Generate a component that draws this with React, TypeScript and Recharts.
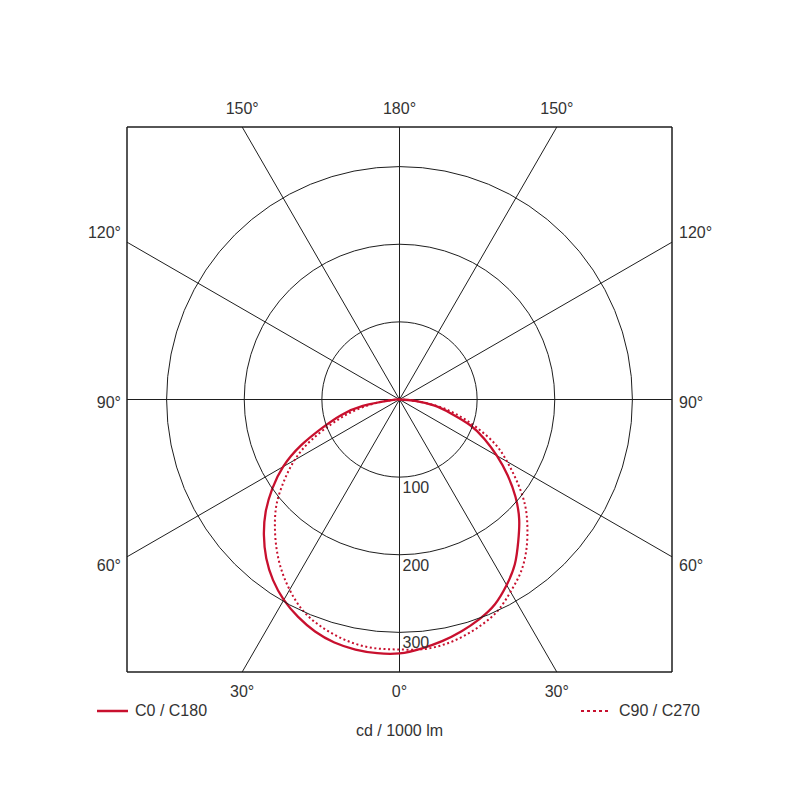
import React from 'react';
import {
  ComposedChart,
  Line,
  XAxis,
  YAxis,
  ReferenceLine,
  ReferenceDot,
} from 'recharts';

// polar diagram: gamma angle from nadir (0°) to horizontal (90°)
const GAMMA = [0, 5, 10, 15, 20, 25, 30, 35, 40, 45, 50, 55, 60, 65, 70, 75, 80, 85, 90];

// intensity in cd / 1000 lm
const C0 = [327, 322, 316, 309, 301, 291, 276, 259, 238, 218, 195, 170, 145, 121, 97, 68, 46, 20, 0];
const C180 = [327, 328, 327, 324, 318, 309, 298, 284, 267, 247, 225, 200, 173, 140, 105, 78, 48, 12, 0];
const C90 = [322, 323, 321, 316, 309, 300, 286, 272, 254, 233, 211, 185, 160, 136, 106, 78, 50, 20, 0];
const C270 = [322, 322, 320, 315, 308, 298, 283, 266, 247, 227, 206, 181, 156, 127, 94, 66, 38, 15, 0];

const RINGS = [100, 200, 300];
const SPOKES = [30, 60]; // plus the two axis lines

const RANGE = 351;
const EDGE = RANGE * Math.tan(Math.PI / 6); // where the 30° spokes meet the frame

const TOP_LABELS: Record<string, string> = { '-1': '150°', '0': '180°', '1': '150°' };
const BOTTOM_LABELS: Record<string, string> = { '-1': '30°', '0': '0°', '1': '30°' };
const SIDE_LABELS: Record<string, string> = { '-1': '60°', '0': '90°', '1': '120°' };

const RED = '#c8102e';
const INK = '#333';
const GRID = '#1e1e1e';
const FONT = '"Liberation Sans", Arial, sans-serif';
const FS = 16;

const PLOT = 545;
const PX = PLOT / (2 * RANGE);

const rad = (d: number) => (d * Math.PI) / 180;

// left half goes 90° -> 0°, right half 0° -> 90°
const toCurve = (left: number[], right: number[]) => {
  const pts: { g: number; i: number }[] = [];
  for (let k = GAMMA.length - 1; k >= 0; k--) pts.push({ g: -GAMMA[k], i: left[k] });
  for (let k = 1; k < GAMMA.length; k++) pts.push({ g: GAMMA[k], i: right[k] });
  return pts.map(({ g, i }) => ({ x: i * Math.sin(rad(g)), y: -i * Math.cos(rad(g)) }));
};

const solid = toCurve(C180, C0);
const dotted = toCurve(C270, C90);

const SideTick = ({ x, y, payload, side }: any) => {
  const v = Math.sign(payload.value);
  const dy = v > 0 ? -9.5 : v < 0 ? 9 : 3;
  return (
    <text
      x={x}
      y={y + dy}
      dy="0.35em"
      textAnchor={side === 'left' ? 'end' : 'start'}
      fill={INK}
      fontSize={FS}
      fontFamily={FONT}
    >
      {SIDE_LABELS[String(v)]}
    </text>
  );
};

const ringLabel = (value: number) => (p: any) => {
  const vb = p.viewBox;
  return (
    <text x={vb.x + vb.width / 2 + 3} y={vb.y + vb.height + 16} fill={INK} fontSize={FS} fontFamily={FONT}>
      {value}
    </text>
  );
};

const axisTick = { fill: INK, fontSize: FS, fontFamily: FONT };
const frame = { stroke: GRID, strokeWidth: 1.5 };

const legendRow: React.CSSProperties = {
  position: 'absolute',
  top: 702,
  display: 'flex',
  alignItems: 'center',
  fontFamily: FONT,
  fontSize: FS,
  color: INK,
};

export default function App() {
  return (
    <div style={{ position: 'absolute', left: 0, top: 0, width: 800, height: 800, background: '#fff' }}>
      <ComposedChart
        width={800}
        height={800}
        margin={{ top: 103, right: 88, bottom: 58, left: 87 }}
      >
        <XAxis
          xAxisId="b"
          type="number"
          dataKey="x"
          domain={[-RANGE, RANGE]}
          allowDataOverflow
          ticks={[-EDGE, 0, EDGE]}
          tickFormatter={(v: number) => BOTTOM_LABELS[String(Math.sign(v))]}
          height={70}
          tickSize={0}
          tickMargin={14}
          axisLine={frame}
          tickLine={false}
          tick={axisTick}
          label={{ value: 'cd / 1000 lm', position: 'insideBottom', offset: 6, fill: INK, fontSize: FS, fontFamily: FONT }}
        />
        <XAxis
          xAxisId="t"
          orientation="top"
          type="number"
          dataKey="x"
          domain={[-RANGE, RANGE]}
          allowDataOverflow
          ticks={[-EDGE, 0, EDGE]}
          tickFormatter={(v: number) => TOP_LABELS[String(Math.sign(v))]}
          height={24}
          tickSize={0}
          tickMargin={13}
          axisLine={frame}
          tickLine={false}
          tick={axisTick}
        />
        <YAxis
          yAxisId="l"
          type="number"
          dataKey="y"
          domain={[-RANGE, RANGE]}
          allowDataOverflow
          ticks={[-EDGE, 0, EDGE]}
          width={40}
          tickSize={0}
          tickMargin={6}
          axisLine={frame}
          tickLine={false}
          tick={(p: any) => <SideTick {...p} side="left" />}
        />
        <YAxis
          yAxisId="r"
          orientation="right"
          type="number"
          dataKey="y"
          domain={[-RANGE, RANGE]}
          allowDataOverflow
          ticks={[-EDGE, 0, EDGE]}
          width={40}
          tickSize={0}
          tickMargin={7}
          axisLine={frame}
          tickLine={false}
          tick={(p: any) => <SideTick {...p} side="right" />}
        />

        {RINGS.map((r) => (
          <ReferenceDot
            key={r}
            xAxisId="b"
            yAxisId="l"
            x={0}
            y={0}
            r={r * PX}
            fill="none"
            stroke={GRID}
            strokeWidth={1}
            label={{ content: ringLabel(r) }}
          />
        ))}

        <ReferenceLine xAxisId="b" yAxisId="l" x={0} stroke={GRID} strokeWidth={1} />
        <ReferenceLine xAxisId="b" yAxisId="l" y={0} stroke={GRID} strokeWidth={1} />
        {SPOKES.map((a) => {
          const t = Math.tan(rad(30));
          const ends =
            a === 30
              ? [
                  [[-RANGE * t, -RANGE], [RANGE * t, RANGE]],
                  [[-RANGE * t, RANGE], [RANGE * t, -RANGE]],
                ]
              : [
                  [[-RANGE, -RANGE * t], [RANGE, RANGE * t]],
                  [[-RANGE, RANGE * t], [RANGE, -RANGE * t]],
                ];
          return ends.map(([p, q], k) => (
            <ReferenceLine
              key={`${a}-${k}`}
              xAxisId="b"
              yAxisId="l"
              segment={[{ x: p[0], y: p[1] }, { x: q[0], y: q[1] }]}
              stroke={GRID}
              strokeWidth={1}
            />
          ));
        })}

        <Line
          xAxisId="b"
          yAxisId="l"
          data={solid}
          dataKey="y"
          type="natural"
          stroke={RED}
          strokeWidth={2.3}
          dot={false}
          isAnimationActive={false}
        />
        <Line
          xAxisId="t"
          yAxisId="r"
          data={dotted}
          dataKey="y"
          type="natural"
          stroke={RED}
          strokeWidth={2}
          strokeDasharray="2 2.6"
          dot={false}
          isAnimationActive={false}
        />
      </ComposedChart>

      <div style={{ ...legendRow, left: 97 }}>
        <svg width={31} height={6} style={{ marginRight: 7 }}>
          <line x1={0} y1={3} x2={31} y2={3} stroke={RED} strokeWidth={2.5} />
        </svg>
        C0 / C180
      </div>
      <div style={{ ...legendRow, left: 581 }}>
        <svg width={30} height={6} style={{ marginRight: 8 }}>
          <line x1={0} y1={3} x2={30} y2={3} stroke={RED} strokeWidth={2} strokeDasharray="3 3" />
        </svg>
        C90 / C270
      </div>
    </div>
  );
}
